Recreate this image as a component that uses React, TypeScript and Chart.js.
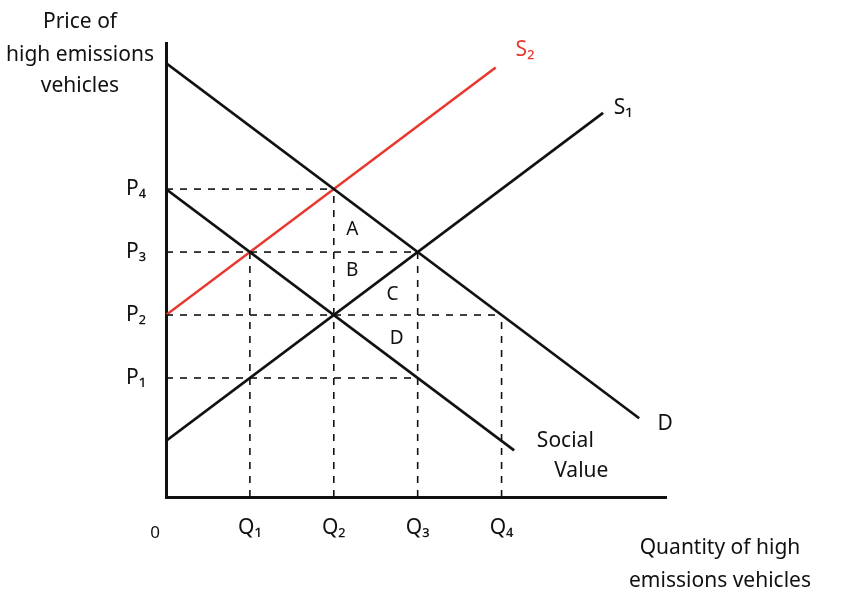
import { useEffect, useRef } from 'react';
import { Chart, registerables } from 'chart.js';

Chart.register(...registerables);

const RED = '#e8392f';
const INK = '#111111';
const FONT = '"Noto Sans", "DejaVu Sans", sans-serif';

// Curves (x = quantity units, y = price units)
const demand = [{ x: 0, y: 7 }, { x: 5.64, y: 1.36 }];
const supply1 = [{ x: 0, y: 1 }, { x: 5.21, y: 6.21 }];
const supply2 = [{ x: 0, y: 3 }, { x: 3.93, y: 6.93 }];
const socialValue = [{ x: 0, y: 5 }, { x: 4.15, y: 0.85 }];

// Axis ticks
const priceTicks = [2, 3, 4, 5];
const priceLabels = ['P₁', 'P₂', 'P₃', 'P₄'];
const quantityTicks = [1, 2, 3, 4];
const quantityLabels = ['Q₁', 'Q₂', 'Q₃', 'Q₄'];

// Dashed guides: horizontal guide from each price runs to this quantity
const priceGuideEnds = [3, 4, 3, 2];
// vertical guide from each quantity runs up to this price
const quantityGuideTops = [4, 5, 4, 3];

// Area labels
const areaLabels = ['A', 'B', 'C', 'D'];
const areaX = [2.22, 2.22, 2.7, 2.75];
const areaY = [4.35, 3.71, 3.32, 2.63];

// Curve labels
const curveLabels = ['S₂', 'S₁', 'D', 'Social', 'Value'];
const curveLabelX = [4.28, 5.45, 5.95, 4.76, 4.95];
const curveLabelY = [7.21, 6.29, 1.27, 1.0, 0.52];
const curveLabelColor = [RED, INK, INK, INK, INK];

const yTitle = ['Price of', 'high emissions', 'vehicles'];
const xTitle = ['Quantity of high', 'emissions vehicles'];

const X_MAX = 5.96;
const Y_MIN = 0.11;
const Y_MAX = 7.32;

const textPlugin = {
  id: 'textPlugin',
  afterDraw(chart: any) {
    const { ctx, chartArea, scales } = chart;
    const xs = scales.x;
    const ys = scales.y;
    ctx.save();
    ctx.textAlign = 'center';
    ctx.textBaseline = 'middle';

    // area labels
    ctx.fillStyle = INK;
    ctx.font = `19px ${FONT}`;
    areaLabels.forEach((t, i) => {
      ctx.fillText(t, xs.getPixelForValue(areaX[i]), ys.getPixelForValue(areaY[i]));
    });

    // curve labels
    ctx.font = `21px ${FONT}`;
    curveLabels.forEach((t, i) => {
      ctx.fillStyle = curveLabelColor[i];
      ctx.fillText(t, xs.getPixelForValue(curveLabelX[i]), ys.getPixelForValue(curveLabelY[i]));
    });

    // origin
    ctx.fillStyle = INK;
    ctx.font = `17px ${FONT}`;
    ctx.fillText('0', chartArea.left - 11, chartArea.bottom + 36);

    // axis titles
    ctx.font = `21px ${FONT}`;
    const yT = [22, 55, 86];
    yTitle.forEach((t, i) => ctx.fillText(t, chartArea.left - 86, yT[i]));
    const xT = [548, 581];
    xTitle.forEach((t, i) => ctx.fillText(t, chartArea.right + 54, xT[i]));
    ctx.restore();
  },
};

export default function App() {
  const ref = useRef<HTMLCanvasElement | null>(null);

  useEffect(() => {
    if (!ref.current) return;
    const solid = (data: any[], color: string) => ({
      data,
      borderColor: color,
      borderWidth: 2.6,
      pointRadius: 0,
      showLine: true,
      fill: false,
    });
    const dashed = (data: any[]) => ({
      data,
      borderColor: INK,
      borderWidth: 1.6,
      borderDash: [7, 7],
      pointRadius: 0,
      showLine: true,
      fill: false,
    });
    const guides: any[] = [];
    priceTicks.forEach((p, i) => {
      guides.push(dashed([{ x: 0, y: p }, { x: priceGuideEnds[i], y: p }]));
    });
    quantityTicks.forEach((q, i) => {
      guides.push(dashed([{ x: q, y: Y_MIN }, { x: q, y: quantityGuideTops[i] }]));
    });

    const chart = new Chart(ref.current, {
      type: 'scatter',
      data: {
        datasets: [
          ...guides,
          solid(demand, INK),
          solid(socialValue, INK),
          solid(supply1, INK),
          solid(supply2, RED),
        ],
      },
      options: {
        animation: false,
        responsive: false,
        layout: { padding: { top: 43, right: 184, left: 0, bottom: 0 } },
        plugins: { legend: { display: false }, tooltip: { enabled: false } },
        scales: {
          x: {
            type: 'linear',
            min: 0,
            max: X_MAX,
            grid: { display: false, drawTicks: false },
            border: { display: true, color: INK, width: 3 },
            afterFit: (s: any) => { s.height = 111; },
            afterBuildTicks: (s: any) => { s.ticks = quantityTicks.map((v) => ({ value: v })); },
            ticks: {
              padding: 18,
              color: INK,
              font: { size: 21, family: FONT },
              maxRotation: 0,
              autoSkip: false,
              callback: (v: any) => quantityLabels[quantityTicks.indexOf(Number(v))] ?? '',
            },
          },
          y: {
            type: 'linear',
            min: Y_MIN,
            max: Y_MAX,
            grid: { display: false, drawTicks: false },
            border: { display: true, color: INK, width: 3 },
            afterFit: (s: any) => { s.width = 166; },
            afterBuildTicks: (s: any) => { s.ticks = priceTicks.map((v) => ({ value: v })); },
            ticks: {
              padding: 20,
              color: INK,
              font: { size: 21, family: FONT },
              autoSkip: false,
              callback: (v: any) => priceLabels[priceTicks.indexOf(Number(v))] ?? '',
            },
          },
        },
      },
      plugins: [textPlugin],
    });
    return () => chart.destroy();
  }, []);

  return (
    <div style={{ position: 'absolute', left: 0, top: 0, width: 850, height: 608, background: '#fff' }}>
      <canvas ref={ref} width={850} height={608} />
    </div>
  );
}
